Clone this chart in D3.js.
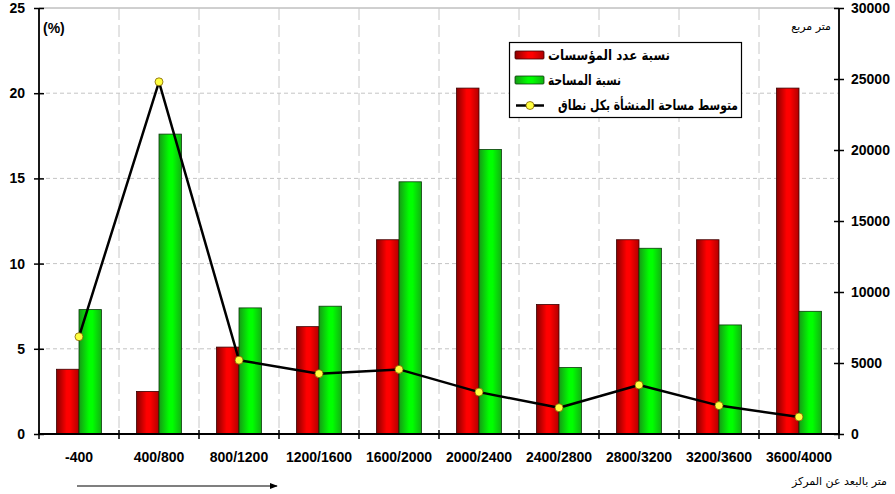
<!DOCTYPE html>
<html>
<head>
<meta charset="utf-8">
<script src="https://cdn.jsdelivr.net/npm/d3@7"></script>
<style>
  html, body { margin: 0; padding: 0; background: #fff; }
  svg { display: block; font-family: "Liberation Sans", Arial, "DejaVu Sans", sans-serif; }
</style>
</head>
<body>
<svg id="chart" width="895" height="494"></svg>
<script>
// Distance bands from the centre (metres)
const categories = ["-400", "400/800", "800/1200", "1200/1600", "1600/2000",
                    "2000/2400", "2400/2800", "2800/3200", "3200/3600", "3600/4000"];
// Share of establishments (%)
const countShare = [3.8, 2.5, 5.1, 6.3, 11.4, 20.3, 7.6, 11.4, 11.4, 20.3];
// Share of floor area (%)
const areaShare = [7.3, 17.6, 7.4, 7.5, 14.8, 16.7, 3.9, 10.9, 6.4, 7.2];
// Average establishment area per band (m²)
const avgArea = [6850, 24800, 5200, 4250, 4550, 2950, 1850, 3450, 2000, 1200];

const leftTicks = [0, 5, 10, 15, 20, 25];
const rightTicks = [0, 5000, 10000, 15000, 20000, 25000, 30000];

const seriesNames = ["نسبة عدد المؤسسات", "نسبة المساحة", "متوسط مساحة المنشأة بكل نطاق"];

const svg = d3.select("#chart");
const L = 39, R = 839, T = 8, B = 434;

const x = d3.scaleBand().domain(categories).range([L, R]).padding(0);
const xs = d3.scaleBand().domain(["count", "area"]).range([0, x.bandwidth()]).paddingInner(0).paddingOuter(0.78);
const yL = d3.scaleLinear().domain([0, 25]).range([B, T]);
const yR = d3.scaleLinear().domain([0, 30000]).range([B, T]);

// Gradients giving the bars a rounded look
const defs = svg.append("defs");
function grad(id, edge, mid, edge2) {
  const g = defs.append("linearGradient").attr("id", id).attr("x1", "0").attr("x2", "1").attr("y1", "0").attr("y2", "0");
  g.append("stop").attr("offset", "0").attr("stop-color", edge);
  g.append("stop").attr("offset", "0.45").attr("stop-color", mid);
  g.append("stop").attr("offset", "0.6").attr("stop-color", mid);
  g.append("stop").attr("offset", "1").attr("stop-color", edge2);
}
grad("gRed", "#8a0000", "#ff0000", "#b00000");
grad("gGreen", "#169a16", "#00ff00", "#12b012");
defs.append("marker").attr("id", "arrowHead").attr("viewBox", "0 0 10 10")
  .attr("refX", 9).attr("refY", 5).attr("markerWidth", 8).attr("markerHeight", 8)
  .attr("markerUnits", "userSpaceOnUse").attr("orient", "auto")
  .append("path").attr("d", "M0,1 L10,5 L0,9 Z").attr("fill", "#000");

// Plot frame top edge
svg.append("line").attr("x1", L).attr("x2", R).attr("y1", T).attr("y2", T)
  .attr("stroke", "#a0a0a0").attr("stroke-width", 1);

// Horizontal grid (left scale)
svg.append("g").selectAll("line").data(leftTicks.filter(d => d > 0 && d < 25)).join("line")
  .attr("x1", L).attr("x2", R).attr("y1", d => yL(d)).attr("y2", d => yL(d))
  .attr("stroke", "#c4c4c4").attr("stroke-width", 1).attr("stroke-dasharray", "4,3");

// Vertical grid between bands
svg.append("g").selectAll("line").data(categories.slice(1)).join("line")
  .attr("x1", d => x(d)).attr("x2", d => x(d)).attr("y1", T).attr("y2", B)
  .attr("stroke", "#c8c8c8").attr("stroke-width", 1).attr("stroke-dasharray", "12,5");

// Bars
const groups = svg.append("g").selectAll("g").data(categories).join("g")
  .attr("transform", d => `translate(${x(d)},0)`);
groups.append("rect")
  .attr("x", xs("count")).attr("width", xs.bandwidth())
  .attr("y", (d, i) => yL(countShare[i])).attr("height", (d, i) => B - yL(countShare[i]))
  .attr("fill", "url(#gRed)").attr("stroke", "#3a0000").attr("stroke-width", 0.8);
groups.append("rect")
  .attr("x", xs("area")).attr("width", xs.bandwidth())
  .attr("y", (d, i) => yL(areaShare[i])).attr("height", (d, i) => B - yL(areaShare[i]))
  .attr("fill", "url(#gGreen)").attr("stroke", "#0a3a0a").attr("stroke-width", 0.8);

// Average-area line
const cx = d => x(d) + x.bandwidth() / 2;
const line = d3.line().x((d, i) => cx(categories[i])).y(d => yR(d));
svg.append("path").datum(avgArea).attr("d", line)
  .attr("fill", "none").attr("stroke", "#000").attr("stroke-width", 2.5).attr("stroke-linejoin", "round");
svg.append("g").selectAll("circle").data(avgArea).join("circle")
  .attr("cx", (d, i) => cx(categories[i])).attr("cy", d => yR(d)).attr("r", 4)
  .attr("fill", "#ffff40").attr("stroke", "#806000").attr("stroke-width", 0.8);

// Axes
const axL = svg.append("g").attr("transform", `translate(${L},0)`)
  .call(d3.axisLeft(yL).tickValues(leftTicks).tickSize(5).tickPadding(9).tickFormat(d3.format("d")));
axL.selectAll(".tick line").attr("x2", -5).attr("x1", 5);
const axR = svg.append("g").attr("transform", `translate(${R},0)`)
  .call(d3.axisRight(yR).tickValues(rightTicks).tickSize(5).tickPadding(7).tickFormat(d3.format("d")));
axR.selectAll(".tick line").attr("x2", 5).attr("x1", -5);
const axB = svg.append("g").attr("transform", `translate(0,${B})`)
  .call(d3.axisBottom(x).tickSize(0).tickPadding(18));
// boundary ticks crossing the baseline
svg.append("g").selectAll("line").data(d3.range(categories.length + 1)).join("line")
  .attr("x1", i => L + i * x.step()).attr("x2", i => L + i * x.step())
  .attr("y1", B - 4).attr("y2", B + 5).attr("stroke", "#000").attr("stroke-width", 1.5);

[axL, axR, axB].forEach(a => {
  a.select(".domain").attr("stroke", "#000").attr("stroke-width", 1.8);
  a.selectAll(".tick line").attr("stroke", "#000").attr("stroke-width", 1.5);
  a.selectAll("text").attr("font-size", 14).attr("font-weight", "bold").attr("fill", "#000")
    .attr("font-family", "'Liberation Sans', Arial, sans-serif");
});
axB.select(".domain").attr("d", `M${L},0H${R}`);
axL.select(".domain").attr("d", `M0,${B}V${T}`);
axR.select(".domain").attr("d", `M0,${B}V${T}`);

// Axis titles
svg.append("text").attr("x", 43).attr("y", 33).attr("font-size", 14).attr("font-weight", "bold").text("(%)");
svg.append("text").attr("x", 831).attr("y", 30).attr("text-anchor", "end").attr("font-size", 11)
  .attr("font-family", "'DejaVu Sans', sans-serif").text("متر مربع");
svg.append("text").attr("x", 887).attr("y", 485).attr("text-anchor", "end").attr("font-size", 11)
  .attr("font-family", "'DejaVu Sans', sans-serif").text("متر بالبعد عن المركز");

// Direction arrow
svg.append("line").attr("x1", 77).attr("x2", 277).attr("y1", 486).attr("y2", 486)
  .attr("stroke", "#000").attr("stroke-width", 1.2).attr("marker-end", "url(#arrowHead)");

// Legend
const lg = svg.append("g");
lg.append("rect").attr("x", 509.5).attr("y", 42.5).attr("width", 232).attr("height", 75)
  .attr("fill", "#fff").attr("stroke", "#000").attr("stroke-width", 1.2);
lg.append("rect").attr("x", 515).attr("y", 51).attr("width", 29).attr("height", 8)
  .attr("fill", "url(#gRed)").attr("stroke", "#3a0000").attr("stroke-width", 0.8).attr("rx", 1);
lg.append("rect").attr("x", 515).attr("y", 76).attr("width", 29).attr("height", 8)
  .attr("fill", "url(#gGreen)").attr("stroke", "#0a3a0a").attr("stroke-width", 0.8).attr("rx", 1);
lg.append("line").attr("x1", 516).attr("x2", 544).attr("y1", 105.5).attr("y2", 105.5)
  .attr("stroke", "#000").attr("stroke-width", 2.5);
lg.append("circle").attr("cx", 530).attr("cy", 105.5).attr("r", 4)
  .attr("fill", "#ffff40").attr("stroke", "#806000").attr("stroke-width", 0.8);
const labelX = [548, 548, 558];
const labelWidths = [122, 73, 180];
lg.selectAll("text.lab").data(seriesNames).join("text").attr("class", "lab")
  .attr("x", (d, i) => labelX[i]).attr("y", (d, i) => [60, 85, 110][i])
  .attr("font-size", 14).attr("font-weight", "bold")
  .attr("font-family", "'DejaVu Sans Condensed', 'DejaVu Sans', sans-serif")
  .attr("font-stretch", "condensed")
  .attr("textLength", (d, i) => labelWidths[i])
  .attr("lengthAdjust", "spacingAndGlyphs")
  .text(d => d);
</script>
</body>
</html>
